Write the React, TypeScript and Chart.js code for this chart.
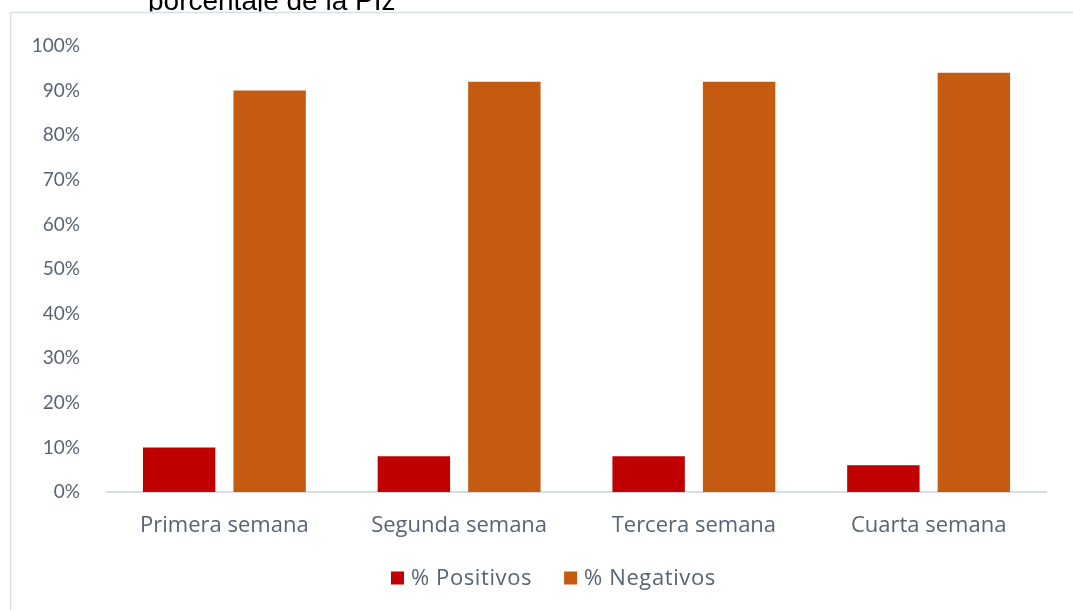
import React, { useEffect, useRef } from "react";
import { Chart, registerables } from "chart.js";

Chart.register(...registerables);

const categories = ["Primera semana", "Segunda semana", "Tercera semana", "Cuarta semana"];
const positivos = [10, 8, 8, 6];
const negativos = [90, 92, 92, 94];
const seriesNames = ["% Positivos", "% Negativos"];
const seriesColors = ["#C00000", "#C55A11"];
const titleText = "porcentaje de la PIz";

const TEXT = "#586374";
const TICK_FONT = "Lato";
const LABEL_FONT = "'Open Sans'";

const framePlugin = {
  id: "frame",
  beforeDraw(chart: any) {
    const ctx = chart.ctx;
    ctx.save();
    ctx.fillStyle = "#000";
    ctx.font = "28px 'Liberation Sans', Arial, sans-serif";
    ctx.textBaseline = "alphabetic";
    ctx.textAlign = "left";
    ctx.fillText(titleText, 148, 9.5);
    ctx.fillStyle = "#fff";
    ctx.fillRect(10, 11.5, chart.width, chart.height);
    ctx.strokeStyle = "#d9dee7";
    ctx.lineWidth = 1.5;
    ctx.beginPath();
    ctx.moveTo(10.5, chart.height + 2);
    ctx.lineTo(10.5, 12.5);
    ctx.lineTo(chart.width + 2, 12.5);
    ctx.stroke();
    ctx.restore();
  },
  afterDraw(chart: any) {
    const ctx = chart.ctx;
    ctx.save();
    ctx.font = "22px " + LABEL_FONT;
    try {
      (ctx as any).letterSpacing = "0.6px";
    } catch (e) {}
    ctx.textBaseline = "middle";
    ctx.textAlign = "left";
    let x = 391;
    const y = 578;
    chart.data.datasets.forEach((ds: any) => {
      ctx.fillStyle = ds.backgroundColor;
      ctx.fillRect(x, y - 6.5, 13, 13);
      x += 13 + 7;
      ctx.fillStyle = TEXT;
      ctx.fillText(ds.label, x, y + 1);
      x += ctx.measureText(ds.label).width + 32;
    });
    ctx.restore();
  },
};

export default function App() {
  const ref = useRef<HTMLCanvasElement | null>(null);
  useEffect(() => {
    if (!ref.current) return;
    const chart = new Chart(ref.current, {
      type: "bar",
      data: {
        labels: categories,
        datasets: [
          { label: seriesNames[0], data: positivos, backgroundColor: seriesColors[0] },
          { label: seriesNames[1], data: negativos, backgroundColor: seriesColors[1] },
        ],
      },
      plugins: [framePlugin],
      options: {
        responsive: false,
        animation: false,
        layout: { padding: { left: 20, right: 27, top: 46, bottom: 0 } },
        datasets: { bar: { categoryPercentage: 0.771, barPercentage: 0.8 } },
        plugins: {
          tooltip: { enabled: false },
          title: { display: false },
          legend: { display: false },
        },
        scales: {
          x: {
            grid: { display: false, drawTicks: false },
            border: { display: true, color: "#d9dde5", width: 2 },
            ticks: { color: TEXT, font: { family: LABEL_FONT, size: 22 }, padding: 21, maxRotation: 0 },
            afterFit: (s: any) => {
              s.height = 118;
            },
          },
          y: {
            min: 0,
            max: 100,
            grid: { display: false, drawTicks: false },
            border: { display: false },
            ticks: {
              stepSize: 10,
              color: TEXT,
              font: { family: TICK_FONT, size: 19 },
              padding: 27,
              callback: (v: any) => v + "%",
            },
            afterFit: (s: any) => {
              s.width = 87;
            },
          },
        },
      },
    });
    return () => chart.destroy();
  }, []);
  return (
    <div style={{ position: "absolute", left: 0, top: 0, width: 1073, height: 610, background: "#fff" }}>
      <canvas ref={ref} width={1073} height={610} />
    </div>
  );
}
